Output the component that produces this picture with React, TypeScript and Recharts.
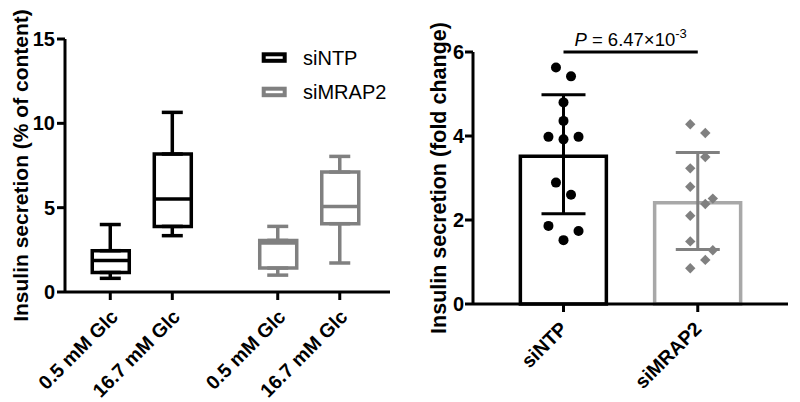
import React from 'react';
import {
    ComposedChart,
    Bar,
    Cell,
    Scatter,
    ErrorBar,
    XAxis,
    YAxis,
    ReferenceLine
} from 'recharts';

const FONT = '"Liberation Sans", Arial, Helvetica, sans-serif';
const BLACK = '#000000';
const GRAY = '#808080';
const LIGHT_GRAY = '#a8a8a8';

// left panel: insulin secretion, % of content (box plots)
const boxLabels = ['0.5 mM Glc', '16.7 mM Glc', '0.5 mM Glc', '16.7 mM Glc'];
const boxGroups = ['siNTP', 'siNTP', 'siMRAP2', 'siMRAP2'];
const boxMin = [0.81, 3.34, 1.0, 1.72];
const boxQ1 = [1.16, 3.89, 1.42, 4.05];
const boxMedian = [1.87, 5.51, 2.9, 5.07];
const boxQ3 = [2.45, 8.18, 3.06, 7.11];
const boxMax = [4.0, 10.65, 3.89, 8.04];
const boxSlots = [1, 2, 3.7, 4.7];
const leftTicks = [0, 5, 10, 15];

// right panel: fold change, mean +/- SD with individual points
const groups = ['siNTP', 'siMRAP2'];
const groupMeans = [3.52, 2.41];
const groupErr = [[1.37, 1.46], [1.11, 1.2]];
const ntpValues = [5.63, 5.42, 4.8, 4.36, 3.98, 3.92, 3.98, 2.89, 2.6, 1.86, 1.74, 1.52];
const ntpJitter = [-1, 1, 0, 0, -2, 0, 2, -1, 1, -2, 2, 0];
const mrapValues = [4.28, 4.07, 3.5, 3.23, 2.79, 2.51, 2.38, 2.1, 1.49, 1.28, 1.05, 0.85];
const mrapJitter = [-1, 1, 1, -1, -1, 2, 1, -1, -1, 2, 1, -1];
const rightTicks = [0, 2, 4, 6];
const pBracketY = 6;

const groupColor: Record<string, string> = { siNTP: BLACK, siMRAP2: GRAY };
const barStroke = [BLACK, LIGHT_GRAY];
const JITTER = 0.056;
const LEFT_DOMAIN = [0.27, 5.51];
const RIGHT_DOMAIN = [0.326, 2.672];

const boxData = boxLabels.map((label, i) => ({
    x: boxSlots[i],
    label,
    range: [boxQ1[i], boxQ3[i]],
}));

const whiskerData = (g: string) =>
    boxLabels.flatMap((_, i) =>
        boxGroups[i] !== g ? [] : [
            { x: boxSlots[i], y: boxQ1[i], err: [boxQ1[i] - boxMin[i], 0] },
            { x: boxSlots[i], y: boxQ3[i], err: [0, boxMax[i] - boxQ3[i]] },
        ]);

const medianData = (g: string) =>
    boxLabels.flatMap((_, i) => (boxGroups[i] !== g ? [] : [{ x: boxSlots[i], y: boxMedian[i] }]));

const barData = groups.map((name, i) => ({ x: i + 1, name, mean: groupMeans[i], err: groupErr[i] }));
const ntpPoints = ntpValues.map((y, i) => ({ x: 1 + ntpJitter[i] * JITTER, y }));
const mrapPoints = mrapValues.map((y, i) => ({ x: 2 + mrapJitter[i] * JITTER, y }));

const Nothing = () => <g />;

const medianShape = (color: string) => (props: any) => (
    <line x1={props.cx - 18.5} x2={props.cx + 18.5} y1={props.cy} y2={props.cy} stroke={color} strokeWidth={3.5} />
);

const Dot = (props: any) => <circle cx={props.cx} cy={props.cy} r={5} fill={BLACK} />;
const Diamond = (props: any) => {
    const { cx, cy } = props;
    const s = 5.2;
    return <polygon points={`${cx},${cy - s} ${cx + s},${cy} ${cx},${cy + s} ${cx - s},${cy}`} fill={GRAY} />;
};

const slantTick = (labelOf: (v: number) => string, dx: number) => (props: any) => {
    const { x, y, payload } = props;
    return (
        <g transform={`translate(${x + dx},${y + 16})`}>
            <text x={0} y={0} textAnchor="end" transform="rotate(-45)" fill={BLACK}
                style={{ fontFamily: FONT, fontSize: 19.5, fontWeight: 700 }}>
                {labelOf(payload.value)}
            </text>
        </g>
    );
};

const axisTitle = (text: string, offset: number, size: number) => (props: any) => {
    const { viewBox } = props;
    const cx = viewBox.x + offset;
    const cy = viewBox.y + viewBox.height / 2;
    return (
        <text x={cx} y={cy} transform={`rotate(-90 ${cx} ${cy})`} textAnchor="middle" fill={BLACK}
            style={{ fontFamily: FONT, fontSize: size, fontWeight: 700 }}>
            {text}
        </text>
    );
};

const PLabel = (props: any) => {
    const { viewBox } = props;
    const cx = viewBox.x + (viewBox.width || 0) / 2;
    const cy = viewBox.y - 6;
    return (
        <text x={cx} y={cy} textAnchor="middle" fill={BLACK} style={{ fontFamily: FONT, fontSize: 18.5 }}>
            <tspan fontStyle="italic">P</tspan>
            <tspan> = 6.47×10</tspan>
            <tspan fontSize={13} dy={-8}>-3</tspan>
        </text>
    );
};

const axisLine = { stroke: BLACK, strokeWidth: 3 };
const tickLine = { stroke: BLACK, strokeWidth: 3 };
const yTick = { fill: BLACK, fontSize: 20, fontWeight: 700, fontFamily: FONT };

const legendItems = [
    { name: 'siNTP', color: BLACK },
    { name: 'siMRAP2', color: GRAY },
];

const App = () => {
    return (
        <div style={{ position: 'absolute', left: 0, top: 0, width: 800, height: 402, background: '#fff' }}>
            <div style={{ position: 'absolute', left: 0, top: 0 }}>
                <ComposedChart width={400} height={402} data={boxData}
                    margin={{ top: 39, right: 10, bottom: 0, left: 0 }}>
                    <XAxis type="number" dataKey="x" domain={LEFT_DOMAIN} allowDataOverflow
                        ticks={boxSlots} interval={0} height={110}
                        axisLine={axisLine} tickLine={tickLine} tickSize={8}
                        tick={slantTick(v => boxLabels[boxSlots.indexOf(v)] ?? '', 9)} />
                    <XAxis xAxisId="box" type="number" dataKey="x" domain={LEFT_DOMAIN} allowDataOverflow
                        ticks={boxSlots} hide />
                    <YAxis type="number" domain={[0, 15]} ticks={leftTicks} width={65}
                        axisLine={axisLine} tickLine={tickLine} tickSize={8} tickMargin={2}
                        tick={yTick}
                        label={{ content: axisTitle('Insulin secretion (% of content)', 27.5, 21) }} />
                    {['siNTP', 'siMRAP2'].map(g => (
                        <Scatter key={`w-${g}`} data={whiskerData(g)} dataKey="y" shape={Nothing}
                            isAnimationActive={false} legendType="none">
                            <ErrorBar dataKey="err" direction="y" width={10.5}
                                stroke={groupColor[g]} strokeWidth={3.5} />
                        </Scatter>
                    ))}
                    <Bar xAxisId="box" dataKey="range" barSize={37} isAnimationActive={false}>
                        {boxData.map((d, i) => (
                            <Cell key={i} fill="#fff" stroke={groupColor[boxGroups[i]]} strokeWidth={3.5} />
                        ))}
                    </Bar>
                    {['siNTP', 'siMRAP2'].map(g => (
                        <Scatter key={`m-${g}`} data={medianData(g)} dataKey="y"
                            shape={medianShape(groupColor[g])} isAnimationActive={false} legendType="none" />
                    ))}
                </ComposedChart>
            </div>

            <svg width={140} height={70} style={{ position: 'absolute', left: 250, top: 40 }}>
                {legendItems.map((item, i) => (
                    <g key={item.name}>
                        <rect x={13.7} y={14.3 + i * 34.4} width={21} height={6.5}
                            fill="#fff" stroke={item.color} strokeWidth={4} />
                        <text x={53} y={25 + i * 34.4} fill={BLACK}
                            style={{ fontFamily: FONT, fontSize: 20 }}>{item.name}</text>
                    </g>
                ))}
            </svg>

            <div style={{ position: 'absolute', left: 400, top: 0 }}>
                <ComposedChart width={400} height={402} data={barData}
                    margin={{ top: 52, right: 12, bottom: 0, left: 0 }}>
                    <XAxis type="number" dataKey="x" domain={RIGHT_DOMAIN} allowDataOverflow
                        ticks={[1, 2]} interval={0} height={98}
                        axisLine={axisLine} tickLine={tickLine} tickSize={8}
                        tick={slantTick(v => groups[v - 1] ?? '', 5)} />
                    <XAxis xAxisId="bars" type="number" dataKey="x" domain={RIGHT_DOMAIN} allowDataOverflow
                        ticks={[1, 2]} hide />
                    <YAxis type="number" domain={[0, 6]} ticks={rightTicks} width={73}
                        axisLine={axisLine} tickLine={tickLine} tickSize={8} tickMargin={1}
                        tick={yTick}
                        label={{ content: axisTitle('Insulin secretion (fold change)', 45.5, 21.5) }} />
                    <Bar xAxisId="bars" dataKey="mean" barSize={86} isAnimationActive={false}>
                        {barData.map((d, i) => (
                            <Cell key={i} fill="#fff" stroke={barStroke[i]} strokeWidth={3.5} />
                        ))}
                    </Bar>
                    {barData.map((d, i) => (
                        <Scatter key={`e-${d.name}`} data={[{ x: d.x, y: d.mean, err: d.err }]} dataKey="y"
                            shape={Nothing} isAnimationActive={false} legendType="none">
                            <ErrorBar dataKey="err" direction="y" width={22}
                                stroke={groupColor[d.name]} strokeWidth={3} />
                        </Scatter>
                    ))}
                    <Scatter data={ntpPoints} dataKey="y" shape={Dot} isAnimationActive={false} legendType="none" />
                    <Scatter data={mrapPoints} dataKey="y" shape={Diamond} isAnimationActive={false} legendType="none" />
                    <ReferenceLine segment={[{ x: 1, y: pBracketY }, { x: 2, y: pBracketY }]}
                        stroke={BLACK} strokeWidth={3} ifOverflow="visible"
                        label={{ content: PLabel }} />
                </ComposedChart>
            </div>
        </div>
    );
};

export default App;
